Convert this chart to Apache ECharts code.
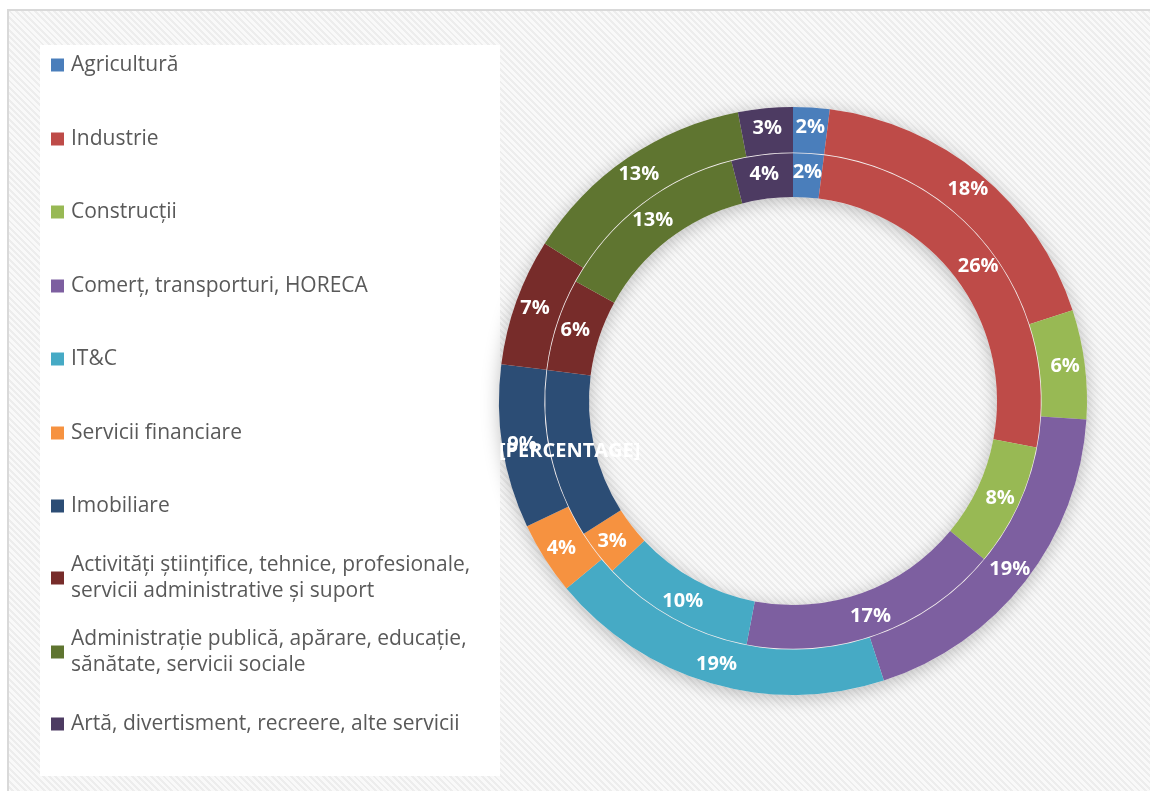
<!doctype html>
<html>
<head>
<meta charset="utf-8">
<title>Structura pe sectoare</title>
<script src="https://cdn.jsdelivr.net/npm/echarts@6/dist/echarts.min.js"></script>
<style>
    html, body { margin: 0; padding: 0; background: #fff; overflow: hidden; }
    #frame {
        position: absolute; left: 7px; top: 9px; width: 1160px; height: 800px;
        border-top: 2px solid #d9d9d9; border-left: 2px solid #d9d9d9;
        background: repeating-linear-gradient(45deg, #f9f9f9 0px, #f9f9f9 2.5px, #ededed 2.5px, #ededed 4.5px);
    }
    #legendBox { position: absolute; left: 40px; top: 45px; width: 460px; height: 731px; background: #fff; }
    #main { position: absolute; left: 0; top: 0; width: 1150px; height: 791px; }
</style>
</head>
<body>
<div id="frame"></div>
<div id="legendBox"></div>
<div id="main"></div>
<script>
    var categories = [
        'Agricultură',
        'Industrie',
        'Construcții',
        'Comerț, transporturi, HORECA',
        'IT&C',
        'Servicii financiare',
        'Imobiliare',
        'Activități științifice, tehnice, profesionale,\nservicii administrative și suport',
        'Administrație publică, apărare, educație,\nsănătate, servicii sociale',
        'Artă, divertisment, recreere, alte servicii'
    ];
    var innerValues = [2, 26, 8, 17, 10, 3, 11, 6, 13, 4];
    var outerValues = [2, 18, 6, 19, 19, 4, 9, 7, 13, 3];

    var colors = ['#4a7ebb', '#be4b48', '#98b954', '#7d5fa0', '#46aac5',
                  '#f69240', '#2c4d75', '#772c2a', '#5f7530', '#4d3b62'];

    // y of each legend marker centre
    var legendCenters = [65, 139, 212, 286, 359, 433, 506, 578, 652, 724];
    var lineH = 26;

    var myChart = echarts.init(document.getElementById('main'));

    var legends = categories.map(function (name, i) {
        var twoLines = name.indexOf('\n') >= 0;
        return {
            orient: 'vertical',
            left: 51,
            top: twoLines ? legendCenters[i] - lineH * 1.5 : legendCenters[i] - lineH / 2,
            padding: 0,
            icon: 'rect',
            itemWidth: 13,
            itemHeight: 13,
            selectedMode: false,
            data: [name],
            textStyle: {
                color: '#595959',
                fontSize: 21,
                fontFamily: 'Open Sans',
                lineHeight: lineH,
                padding: twoLines ? [lineH, 0, 0, 2] : [0, 0, 0, 2]
            }
        };
    });

    var labelStyle = {
        show: true,
        position: 'inside',
        formatter: '{c}%',
        color: '#fff',
        fontSize: 20,
        fontWeight: 'bold',
        fontFamily: 'Open Sans'
    };

    function ringData(values, special) {
        return categories.map(function (name, i) {
            var item = { name: name, value: values[i], itemStyle: { color: colors[i] } };
            if (special && i === 6) {
                item.label = { formatter: '[PERCENTAGE]' };
            }
            return item;
        });
    }

    myChart.setOption({
        animation: false,
        legend: legends,
        series: [{
            // backing ring, gives the soft shadow and the thin line between rings
            type: 'pie',
            silent: true,
            center: [793, 401],
            radius: [204, 294],
            label: { show: false },
            labelLine: { show: false },
            itemStyle: {
                color: '#f4eeee',
                shadowBlur: 18,
                shadowOffsetY: 3,
                shadowColor: 'rgba(0,0,0,0.25)'
            },
            data: [{ name: 'ring', value: 1 }]
        }, {
            type: 'pie',
            name: 'outer',
            center: [793, 401],
            radius: [248.6, 294],
            startAngle: 90,
            clockwise: true,
            emphasis: { disabled: true },
            label: labelStyle,
            labelLine: { show: false },
            labelLayout: { hideOverlap: false },
            data: ringData(outerValues, false)
        }, {
            type: 'pie',
            name: 'inner',
            center: [793, 401],
            radius: [204, 247.8],
            startAngle: 90,
            clockwise: true,
            emphasis: { disabled: true },
            label: labelStyle,
            labelLine: { show: false },
            labelLayout: { hideOverlap: false },
            data: ringData(innerValues, true)
        }]
    });
</script>
</body>
</html>
